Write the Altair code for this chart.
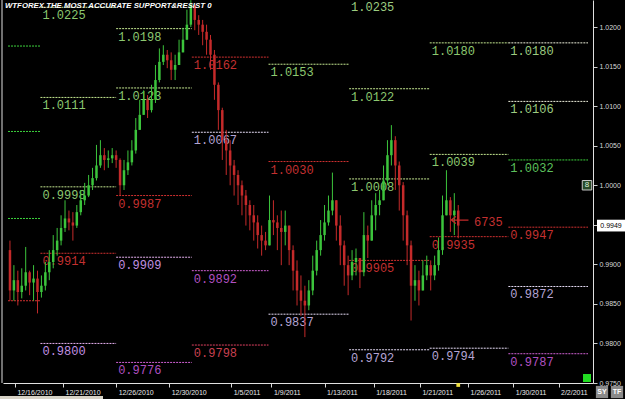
import json
import altair as alt
import pandas as pd

# ---------------- data ----------------
TITLE = "WTFOREX.THE MOST ACCURATE SUPPORT&RESIST 0"

OPEN_FIRST = 0.9918
CLOSE = [0.9867, 0.9880, 0.9865, 0.9873, 0.9890, 0.9877, 0.9882, 0.9865, 0.9873, 0.9890,
         0.9903, 0.9918, 0.9930, 0.9946, 0.9958, 0.9953, 0.9949, 0.9966, 0.9981, 0.9987,
         1.0000, 1.0009, 1.0025, 1.0038, 1.0032, 1.0034, 1.0038, 1.0032, 1.0000, 1.0019,
         1.0029, 1.0044, 1.0070, 1.0089, 1.0108, 1.0095, 1.0108, 1.0133, 1.0156, 1.0165,
         1.0158, 1.0146, 1.0152, 1.0168, 1.0184, 1.0203, 1.0228, 1.0209, 1.0203, 1.0194,
         1.0184, 1.0165, 1.0127, 1.0095, 1.0057, 1.0044, 1.0025, 1.0013, 1.0000, 0.9987,
         0.9975, 0.9962, 0.9953, 0.9937, 0.9930, 0.9924, 0.9956, 0.9953, 0.9946, 0.9941,
         0.9949, 0.9918, 0.9892, 0.9867, 0.9854, 0.9848, 0.9867, 0.9892, 0.9918, 0.9937,
         0.9953, 0.9968, 0.9981, 0.9949, 0.9924, 0.9899, 0.9886, 0.9903, 0.9908, 0.9890,
         0.9937, 0.9930, 0.9962, 0.9975, 0.9981, 1.0006, 1.0038, 1.0057, 1.0025, 1.0000,
         0.9962, 0.9924, 0.9873, 0.9880, 0.9867, 0.9886, 0.9899, 0.9886, 0.9899, 0.9918,
         0.9962, 0.9981, 0.9962, 0.9968, 0.9949]
HIGH = [0.9930, 0.9899, 0.9892, 0.9895, 0.9922, 0.9892, 0.9899, 0.9892, 0.9886, 0.9903,
        0.9918, 0.9937, 0.9946, 0.9962, 0.9981, 0.9968, 0.9966, 0.9975, 0.9994, 1.0003,
        1.0013, 1.0022, 1.0051, 1.0057, 1.0047, 1.0044, 1.0047, 1.0044, 1.0034, 1.0032,
        1.0044, 1.0057, 1.0085, 1.0108, 1.0120, 1.0114, 1.0127, 1.0152, 1.0173, 1.0177,
        1.0171, 1.0168, 1.0165, 1.0184, 1.0199, 1.0222, 1.0234, 1.0228, 1.0215, 1.0209,
        1.0203, 1.0190, 1.0171, 1.0130, 1.0098, 1.0070, 1.0057, 1.0032, 1.0019, 1.0006,
        0.9994, 0.9981, 0.9975, 0.9962, 0.9949, 0.9941, 0.9987, 0.9981, 0.9962, 0.9968,
        0.9968, 0.9949, 0.9924, 0.9905, 0.9886, 0.9873, 0.9880, 0.9911, 0.9930, 0.9956,
        0.9975, 0.9987, 1.0016, 0.9981, 0.9962, 0.9930, 0.9911, 0.9918, 0.9920, 0.9908,
        0.9966, 0.9949, 0.9981, 0.9990, 0.9994, 1.0025, 1.0057, 1.0076, 1.0062, 1.0030,
        1.0004, 0.9968, 0.9930, 0.9899, 0.9892, 0.9905, 0.9911, 0.9905, 0.9911, 0.9934,
        0.9987, 1.0019, 0.9985, 0.9990, 0.9975]
LOW = [0.9854, 0.9854, 0.9848, 0.9857, 0.9867, 0.9861, 0.9854, 0.9838, 0.9858, 0.9867,
       0.9880, 0.9895, 0.9911, 0.9924, 0.9941, 0.9943, 0.9930, 0.9946, 0.9962, 0.9975,
       0.9985, 0.9994, 1.0006, 1.0022, 1.0019, 1.0022, 1.0028, 1.0022, 0.9987, 0.9994,
       1.0013, 1.0025, 1.0040, 1.0070, 1.0089, 1.0085, 1.0092, 1.0104, 1.0130, 1.0152,
       1.0148, 1.0133, 1.0133, 1.0152, 1.0168, 1.0184, 1.0200, 1.0196, 1.0190, 1.0177,
       1.0165, 1.0146, 1.0108, 1.0070, 1.0032, 1.0013, 1.0000, 0.9987, 0.9975, 0.9962,
       0.9949, 0.9943, 0.9930, 0.9920, 0.9911, 0.9918, 0.9924, 0.9937, 0.9918, 0.9899,
       0.9924, 0.9899, 0.9867, 0.9848, 0.9835, 0.9808, 0.9842, 0.9861, 0.9886, 0.9911,
       0.9930, 0.9949, 0.9962, 0.9930, 0.9899, 0.9873, 0.9861, 0.9880, 0.9886, 0.9870,
       0.9885, 0.9908, 0.9930, 0.9943, 0.9962, 0.9981, 1.0000, 1.0025, 0.9994, 0.9968,
       0.9930, 0.9899, 0.9829, 0.9854, 0.9848, 0.9867, 0.9880, 0.9867, 0.9880, 0.9892,
       0.9912, 0.9962, 0.9941, 0.9937, 0.9933]

# weekly pivot sections (in bar units)
SEG_START = [-0.5, 7.75, 27.0, 46.25, 65.75, 86.25, 106.75, 126.75]
SEG_END = [7.75, 27.0, 46.25, 65.75, 86.25, 106.75, 126.75, 147.0]

LEVEL_SEG = [0, 0, 0, 0,
             1, 1, 1, 1, 1,
             2, 2, 2, 2, 2,
             3, 3, 3, 3,
             4, 4, 4,
             5, 5, 5, 5, 5,
             6, 6, 6, 6,
             7, 7, 7, 7, 7, 7]
LEVEL_PRICE = [1.0176, 1.0068, 0.9958, 0.9854,
               1.0225, 1.0111, 0.9998, 0.9914, 0.9800,
               1.0198, 1.0123, 0.9987, 0.9909, 0.9776,
               1.0162, 1.0067, 0.9892, 0.9798,
               1.0153, 1.0030, 0.9837,
               1.0235, 1.0122, 1.0008, 0.9905, 0.9792,
               1.0180, 1.0039, 0.9935, 0.9794,
               1.0180, 1.0106, 1.0032, 0.9947, 0.9872, 0.9787]
LEVEL_KIND = ["G2", "G2", "G2", "P",
              "G", "G", "G", "P", "S2",
              "G", "G", "P", "S2", "S3",
              "P", "S1", "S3", "PK",
              "G", "P", "S1",
              "W", "G", "G", "P", "S1",
              "G", "G", "P", "S1",
              "W", "W", "G2", "P", "S1", "S3"]

X_TICK_POS = [1.25, 13.5, 27.0, 40.5, 56.25, 66.5, 80.0, 92.5, 104.25, 116.5, 128.0, 139.5]
X_TICK_TEXT = ["12/16/2010", "12/21/2010", "12/26/2010", "12/30/2010", "1/5/2011", "1/9/2011",
               "1/13/2011", "1/18/2011", "1/21/2011", "1/26/2011", "1/30/2011", "2/2/2011"]
Y_TICKS = [0.9750, 0.9800, 0.9850, 0.9900, 0.9950, 1.0000, 1.0050, 1.0100, 1.0150, 1.0200]

LAST_PRICE = 0.9949
NOTE_TEXT = "6735"
BUTTONS = ["SY", "TF"]

# ---------------- styles ----------------
W, H = 590, 383
BG = "#000000"
UP, DOWN = "#3cc43c", "#c42a2a"
LINE_COLORS = {"G": "#c4e890", "G2": "#3cd23c", "W": "#eef0dc", "P": "#d03030",
               "S1": "#e6dcf6", "S2": "#e6b0f0", "S3": "#d060d4", "PK": "#e04060"}
LABEL_COLORS = {"G": "#8cc870", "G2": "#5cc05c", "W": "#9ccc80", "P": "#c43030",
                "S1": "#b4a4d4", "S2": "#c090e0", "S3": "#b050c0", "PK": "#c84050"}
LCD_FONT = "Liberation Mono"

# ---------------- frames ----------------
candles = pd.DataFrame({
    "i": list(range(len(CLOSE))),
    "open": [OPEN_FIRST] + CLOSE[:-1],
    "high": HIGH,
    "low": LOW,
    "close": CLOSE,
})

levels = pd.DataFrame({"seg": LEVEL_SEG, "price": LEVEL_PRICE, "kind": LEVEL_KIND})
levels["start"] = [SEG_START[s] for s in levels["seg"]]
levels["end"] = [SEG_END[s] for s in levels["seg"]]
levels["lc"] = [LINE_COLORS[k] for k in levels["kind"]]
levels["tc"] = [LABEL_COLORS[k] for k in levels["kind"]]
labels = levels[levels["seg"] >= 1]

xs = alt.Scale(domain=[-0.5, 147.0], nice=False, zero=False)
ys = alt.Scale(domain=[0.9750, 1.02342], nice=False, zero=False)

label_expr = f"{json.dumps(X_TICK_TEXT)}[indexof({json.dumps(X_TICK_POS)}, datum.value)]"
xaxis = alt.Axis(values=X_TICK_POS, labelExpr=label_expr, labelAlign="left", labelOffset=2,
                 labelFontSize=7, labelFont="Liberation Sans", labelColor="#e8e8e8",
                 labelPadding=1, tickColor="#d8d8d8", tickSize=4, domainColor="#e0e0e0",
                 grid=False, title=None, labelFlush=False, labelOverlap=False)
yaxis = alt.Axis(orient="right", values=Y_TICKS, format=".4f", labelFontSize=7,
                 labelFont="Liberation Sans", labelColor="#d8d8d8", tickSize=4,
                 tickColor="#d0d0d0", domainColor="#e0e0e0", grid=False, title=None,
                 labelPadding=2, labelFlush=False, labelOverlap=False)


def X(f):
    return alt.X(f, type="quantitative", scale=xs, axis=xaxis)


def Y(f):
    return alt.Y(f, type="quantitative", scale=ys, axis=yaxis)


candle_color = alt.when(alt.datum.close >= alt.datum.open).then(alt.value(UP)).otherwise(alt.value(DOWN))

level_rules = alt.Chart(levels).mark_rule(strokeDash=[2, 1], strokeWidth=1).encode(
    x=X("start"), x2="end", y=Y("price"), color=alt.Color("lc:N", scale=None))

level_text = alt.Chart(labels).mark_text(
    align="left", baseline="top", dx=2, dy=3, font=LCD_FONT, fontSize=12).encode(
    x=X("start"), y=Y("price"), text=alt.Text("price:Q", format=".4f"),
    color=alt.Color("tc:N", scale=None))

wicks = alt.Chart(candles).mark_rule(strokeWidth=1).encode(
    x=X("i"), y=Y("low"), y2="high", color=candle_color)

bodies = alt.Chart(candles).mark_bar(size=2.5).encode(
    x=X("i"), y=Y("open"), y2="close", color=candle_color)

last_df = pd.DataFrame({"price": [LAST_PRICE], "txt": [f"{LAST_PRICE:.4f}"], "i": [len(CLOSE) - 1]})
note_df = pd.DataFrame({"price": [0.9956], "i": [114.4], "txt": [NOTE_TEXT], "ti": [118.0], "tp": [0.9953]})

arrow = alt.Chart(note_df).mark_point(
    shape="M-1,0L1,0M-1,0L-0.45,-0.4M-1,0L-0.45,0.4", size=300, filled=False,
    stroke=DOWN, strokeWidth=1.2, opacity=1).encode(x=X("i"), y=Y("price"))
note = alt.Chart(note_df).mark_text(
    align="left", baseline="middle", font=LCD_FONT, fontSize=12, color="#c43030").encode(
    x=X("ti"), y=Y("tp"), text="txt:N")

price_box = alt.Chart(last_df).mark_point(
    shape="M-1,-0.42L1,-0.42L1,0.42L-1,0.42Z", size=784, filled=True, fill="#ffffff",
    strokeWidth=0, opacity=1).encode(x=alt.value(W + 18), y=Y("price"))
price_txt = alt.Chart(last_df).mark_text(
    align="center", baseline="middle", fontSize=7, font="Liberation Sans", color="#000000").encode(
    x=alt.value(W + 18), y=Y("price"), text="txt:N")

marker = alt.Chart(last_df).mark_point(shape="square", size=14, filled=True, color="#f0e040",
                                        opacity=1).encode(x=X("i"), y=alt.value(H + 2))

one_df = pd.DataFrame({"price": [1.0], "t": ["8"]})
eight_box = alt.Chart(one_df).mark_point(shape="square", size=90, filled=True, fill="#2a4a2a",
                                          stroke="#c8c8c8", strokeWidth=1, opacity=1).encode(
    x=alt.value(W - 6), y=Y("price"))
eight_txt = alt.Chart(one_df).mark_text(fontSize=8, color="#d8f0d8", font="Liberation Sans").encode(
    x=alt.value(W - 6), y=Y("price"), text="t:N")

deco_df = pd.DataFrame({"t": [TITLE]})
title = alt.Chart(deco_df).mark_text(
    align="left", baseline="middle", font="Liberation Sans", fontSize=7.8, fontWeight="bold",
    fontStyle="italic", color="#ffffff").encode(x=alt.value(2), y=alt.value(6), text="t:N")

left_frame = alt.Chart(deco_df).mark_rule(color="#e0e0e0", strokeWidth=1).encode(
    x=alt.value(-1), y=alt.value(0), y2=alt.value(H))

green_sq = alt.Chart(deco_df).mark_square(size=64, color="#22dd22", opacity=1).encode(
    x=alt.value(W - 6), y=alt.value(H - 5))

btn_sy_df = pd.DataFrame({"t": [BUTTONS[0]]})
btn_tf_df = pd.DataFrame({"t": [BUTTONS[1]]})
btn_layers = []
for df_, xpos in ((btn_sy_df, W + 9), (btn_tf_df, W + 24)):
    btn_layers.append(alt.Chart(df_).mark_square(size=150, color="#8a8a8a", opacity=1).encode(
        x=alt.value(xpos), y=alt.value(H + 9)))
    btn_layers.append(alt.Chart(df_).mark_text(fontSize=7, fontWeight="bold", color="#ffffff",
                                               font="Liberation Sans").encode(
        x=alt.value(xpos), y=alt.value(H + 9), text="t:N"))

strip = alt.Chart(deco_df).mark_rect(color="#d6d2c6").encode(
    x=alt.value(-3), x2=alt.value(100), y=alt.value(H + 13), y2=alt.value(H + 16))

chart = alt.layer(
    level_rules, level_text, wicks, bodies, arrow, note, marker,
    left_frame, green_sq, eight_box, eight_txt, title, price_box, price_txt, strip,
    *btn_layers,
).properties(
    width=W, height=H, background=BG,
    padding={"left": 3, "top": 0, "right": 32, "bottom": 16},
    autosize=alt.AutoSizeParams(type="none"),
).configure_view(stroke=None)

chart.save("out.html", embed_options={"renderer": "svg", "actions": False})
